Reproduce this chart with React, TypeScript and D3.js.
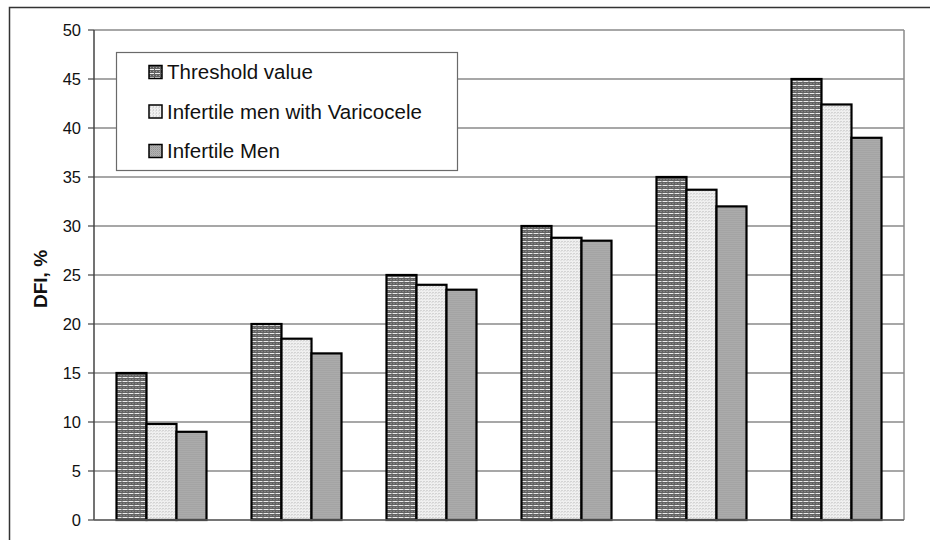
import React from 'react';
import * as d3 from 'd3';

// six threshold groups, no category labels shown on the x axis
const categories = ['15', '20', '25', '30', '35', '45'];
const seriesNames = ['Threshold value', 'Infertile men with Varicocele', 'Infertile Men'];
const thresholdValues = [15, 20, 25, 30, 35, 45];
const varicoceleValues = [9.8, 18.5, 24, 28.8, 33.7, 42.4];
const infertileValues = [9, 17, 23.5, 28.5, 32, 39];
const yTicks = [0, 5, 10, 15, 20, 25, 30, 35, 40, 45, 50];

const seriesValues = [thresholdValues, varicoceleValues, infertileValues];
const patternIds = ['pat-threshold', 'pat-varicocele', 'pat-infertile'];

const width = 930;
const height = 540;
const margin = { top: 30, right: 26, bottom: 20, left: 94 };
const font = '"Liberation Sans", Arial, sans-serif';

const App: React.FC = () => {
  const x = d3.scaleBand<string>()
    .domain(categories)
    .range([margin.left, width - margin.right])
    .paddingInner(1 / 3)
    .paddingOuter(1 / 6);

  const xSub = d3.scaleBand<string>()
    .domain(seriesNames)
    .range([0, x.bandwidth()]);

  const y = d3.scaleLinear()
    .domain([0, 50])
    .range([height - margin.bottom, margin.top]);

  const plotRight = width - margin.right;

  return (
    <svg width={width} height={height} style={{ position: 'absolute', left: 0, top: 0, display: 'block' }}>
      <defs>
        {/* dark with dashed light rows */}
        <pattern id="pat-threshold" width={6} height={4} patternUnits="userSpaceOnUse">
          <rect width={6} height={4} fill="#626262" />
          <rect x={0} y={1} width={5} height={1} fill="#ececec" />
          <rect x={1} y={3} width={1} height={1} fill="#a0a0a0" />
          <rect x={4} y={3} width={1} height={1} fill="#a0a0a0" />
        </pattern>
        {/* light dotted */}
        <pattern id="pat-varicocele" width={3} height={3} patternUnits="userSpaceOnUse">
          <rect width={3} height={3} fill="#f0f0f0" />
          <rect x={1} y={1} width={1} height={1} fill="#b8b8b8" />
          <rect x={0} y={2} width={1} height={1} fill="#d4d4d4" />
        </pattern>
        {/* medium grey dither */}
        <pattern id="pat-infertile" width={2} height={2} patternUnits="userSpaceOnUse">
          <rect width={2} height={2} fill="#b2b2b2" />
          <rect x={0} y={0} width={1} height={1} fill="#959595" />
          <rect x={1} y={1} width={1} height={1} fill="#a4a4a4" />
        </pattern>
      </defs>

      <rect x={0} y={0} width={width} height={height} fill="#fff" />
      {/* outer frame, cropped at right and bottom */}
      <path d={`M9.5,${height + 2}V7.5H${width + 2}`} fill="none" stroke="#333" strokeWidth={1.5} />

      {/* gridlines */}
      {yTicks.map(t => (
        <line key={`g${t}`} x1={margin.left} x2={plotRight} y1={y(t)} y2={y(t)} stroke="#8a8a8a" strokeWidth={1.5} />
      ))}
      <line x1={plotRight} x2={plotRight} y1={y(50)} y2={y(0)} stroke="#8a8a8a" strokeWidth={1.5} />

      {/* bars */}
      {categories.map((c, i) => (
        <g key={c} transform={`translate(${x(c)},0)`}>
          {seriesNames.map((s, j) => (
            <rect
              key={s}
              x={xSub(s)}
              y={y(seriesValues[j][i])}
              width={xSub.bandwidth()}
              height={y(0) - y(seriesValues[j][i])}
              fill={`url(#${patternIds[j]})`}
              stroke="#000"
              strokeWidth={2.2}
            />
          ))}
        </g>
      ))}

      {/* y axis */}
      <line x1={margin.left} x2={margin.left} y1={y(50)} y2={y(0)} stroke="#444" strokeWidth={1.5} />
      <line x1={margin.left} x2={plotRight} y1={y(0)} y2={y(0)} stroke="#666" strokeWidth={1.5} />
      {yTicks.map(t => (
        <g key={`t${t}`}>
          <line x1={margin.left - 6} x2={margin.left} y1={y(t)} y2={y(t)} stroke="#444" strokeWidth={1.2} />
          <text x={81} y={y(t)} dy="0.36em" textAnchor="end" fontFamily={font} fontSize={16.5} fill="#111">{t}</text>
        </g>
      ))}
      <text
        transform={`translate(47,${(y(0) + y(50)) / 2 + 4}) rotate(-90)`}
        textAnchor="middle"
        fontFamily={font}
        fontSize={19}
        fontWeight="bold"
        fill="#111"
      >DFI, %</text>

      {/* legend */}
      <rect x={116.5} y={52.5} width={341} height={118} fill="#fff" stroke="#6a6a6a" strokeWidth={1.2} />
      {seriesNames.map((s, j) => (
        <g key={s} transform={`translate(149,${72 + j * 39.5})`}>
          <rect x={0} y={-6.5} width={13} height={13} fill={`url(#${patternIds[j]})`} stroke="#000" strokeWidth={1.5} />
          <text x={18} y={0} dy="0.36em" fontFamily={font} fontSize={20.5} fill="#111">{s}</text>
        </g>
      ))}
    </svg>
  );
};

export default App;
